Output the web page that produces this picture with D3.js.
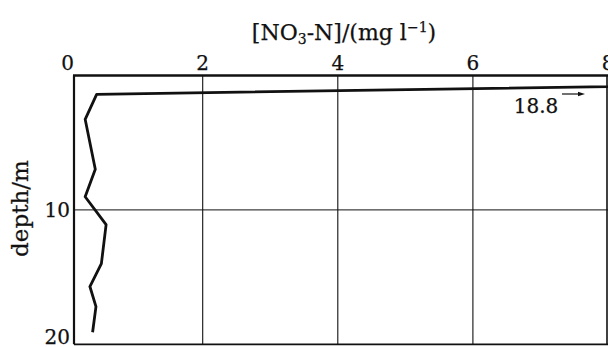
<!DOCTYPE html>
<html>
<head>
<meta charset="utf-8">
<script src="https://cdn.jsdelivr.net/npm/d3@7"></script>
<style>
  html, body { margin: 0; padding: 0; background: #fff; }
  svg text { font-family: "DejaVu Serif", "Liberation Serif", serif; fill: #111; stroke: #111; stroke-width: 0.25px; }
</style>
</head>
<body>
<svg id="chart" width="608" height="347"></svg>
<script>
// Nitrate-nitrogen concentration against depth
const nitrate = [18.8, 0.43, 0.26, 0.41, 0.26, 0.57, 0.50, 0.33, 0.42, 0.37];
const depth   = [0.0, 1.40, 3.26, 6.98, 9.02, 11.1, 14.0, 15.7, 17.2, 19.1];
const xTicks = [0, 2, 4, 6, 8];
const yTicks = [10, 20];
const surfaceLabel = "18.8";

const W = 608, H = 347;
const svg = d3.select("#chart");

// value 0 sits slightly left of the depth axis line
const x = d3.scaleLinear().domain([0, 8]).range([67.6, 608]);
const y = d3.scaleLinear().domain([0, 20]).range([75.5, 344.3]);
const frameLeft = 74;

const ink = "#111";

// clip region for the plot interior
svg.append("defs").append("clipPath").attr("id", "plotClip")
  .append("rect")
  .attr("x", frameLeft).attr("y", y(0))
  .attr("width", W - frameLeft).attr("height", y(20) - y(0));

// vertical grid lines
svg.append("g").selectAll("line")
  .data(xTicks.filter(d => d > 0 && d < 8))
  .join("line")
  .attr("x1", d => x(d)).attr("x2", d => x(d))
  .attr("y1", y(0)).attr("y2", y(20))
  .attr("stroke", ink).attr("stroke-width", 1.1);

// horizontal grid line at 10 m
svg.append("g").selectAll("line")
  .data(yTicks.filter(d => d < 20))
  .join("line")
  .attr("x1", frameLeft).attr("x2", W)
  .attr("y1", d => y(d)).attr("y2", d => y(d))
  .attr("stroke", ink).attr("stroke-width", 1);

// frame: top, left, bottom, right
svg.append("line").attr("x1", frameLeft - 1).attr("x2", W).attr("y1", y(0)).attr("y2", y(0))
  .attr("stroke", ink).attr("stroke-width", 2.6);
svg.append("line").attr("x1", frameLeft).attr("x2", frameLeft).attr("y1", y(0)).attr("y2", y(20))
  .attr("stroke", ink).attr("stroke-width", 2.2);
svg.append("line").attr("x1", frameLeft).attr("x2", W).attr("y1", y(20)).attr("y2", y(20))
  .attr("stroke", ink).attr("stroke-width", 1.8);
svg.append("line").attr("x1", x(8) - 1).attr("x2", x(8) - 1).attr("y1", y(0)).attr("y2", y(20))
  .attr("stroke", ink).attr("stroke-width", 1.6);

// profile line
const line = d3.line().x((d, i) => x(nitrate[i])).y((d, i) => y(depth[i]));
svg.append("path")
  .datum(nitrate)
  .attr("clip-path", "url(#plotClip)")
  .attr("d", line)
  .attr("fill", "none")
  .attr("stroke", ink)
  .attr("stroke-width", 2.8)
  .attr("stroke-linejoin", "round");

// x tick labels along the top
svg.append("g").selectAll("text")
  .data(xTicks)
  .join("text")
  .attr("x", d => x(d))
  .attr("y", 70)
  .attr("text-anchor", "middle")
  .attr("font-size", 20)
  .text(d => d);

// y tick labels
svg.append("g").selectAll("text")
  .data(yTicks)
  .join("text")
  .attr("x", 70)
  .attr("y", d => d === 20 ? y(d) : y(d) + 7)
  .attr("text-anchor", "end")
  .attr("font-size", 20)
  .text(d => d);

// x axis title
const title = svg.append("text")
  .attr("x", 344).attr("y", 40)
  .attr("text-anchor", "middle")
  .attr("font-size", 22);
title.append("tspan").text("[NO");
title.append("tspan").attr("font-size", 14).attr("dy", 4).text("3");
title.append("tspan").attr("dy", -4).text("-N]/(mg l");
title.append("tspan").attr("font-size", 14).attr("dy", -8).text("\u22121");
title.append("tspan").attr("dy", 8).text(")");

// y axis title
svg.append("text")
  .attr("transform", `translate(28, ${y(9.9)}) rotate(-90)`)
  .attr("text-anchor", "middle")
  .attr("font-size", 23)
  .text("depth/m");

// off-scale surface value annotation
svg.append("text")
  .attr("x", 536).attr("y", 113)
  .attr("text-anchor", "middle")
  .attr("font-size", 20)
  .text(surfaceLabel);
svg.append("line")
  .attr("x1", 562).attr("x2", 580).attr("y1", 94).attr("y2", 94)
  .attr("stroke", ink).attr("stroke-width", 1.2);
svg.append("path")
  .attr("d", "M578,91.8 L585,94 L578,96.2 Z")
  .attr("fill", ink);
</script>
</body>
</html>
